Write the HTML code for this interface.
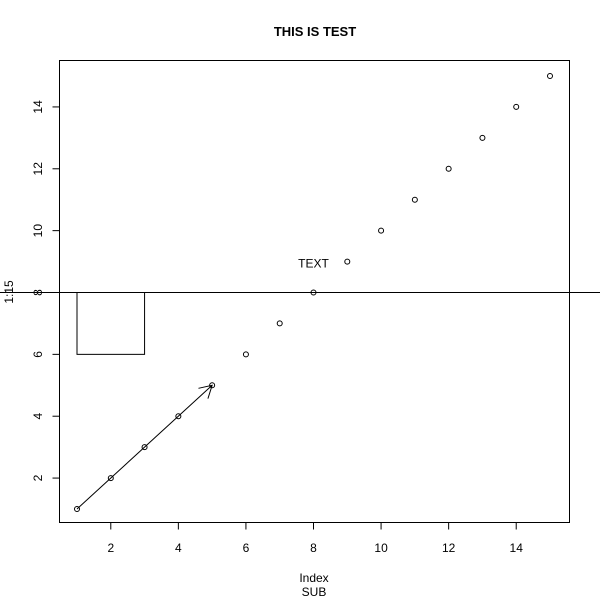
<!DOCTYPE html>
<html><head><meta charset="utf-8"><style>
body{margin:0;background:#fff}
svg{display:block;font-family:"Liberation Sans",Arial,sans-serif}
</style></head><body>
<svg id="chart" width="600" height="600" viewBox="0 0 600 600">
<rect x="0" y="0" width="600" height="600" fill="#fff"/>
<text x="315" y="36" text-anchor="middle" font-size="13" font-weight="bold">THIS IS TEST</text>
<rect x="59.5" y="60.5" width="510" height="462" fill="none" stroke="#000"/>
<g id="xaxis"></g>
<g id="yaxis"></g>
<text x="314" y="582" text-anchor="middle" font-size="12">Index</text>
<text x="314" y="596" text-anchor="middle" font-size="12">SUB</text>
<text x="0" y="0" transform="translate(13,292) rotate(-90)" text-anchor="middle" font-size="12">1:15</text>
<g id="marks"></g>
</svg>
<script>
const xValues=[1,2,3,4,5,6,7,8,9,10,11,12,13,14,15];
const yValues=[1,2,3,4,5,6,7,8,9,10,11,12,13,14,15];
const xTicks=[2,4,6,8,10,12,14];
const yTicks=[2,4,6,8,10,12,14];
const hLineY=8;
const rectCorners=[1,6,3,8];
const arrowPts=[1,1,5,5];
const textLabel=["TEXT",8,9];
const NS="http://www.w3.org/2000/svg";
function sx(v){return 77+(v-1)*(473/14);}
function sy(v){return 509-(v-1)*(433/14);}
function mk(tag,attrs,parent){const e=document.createElementNS(NS,tag);for(const k in attrs)e.setAttribute(k,attrs[k]);parent.appendChild(e);return e;}
const xa=document.getElementById('xaxis'),ya=document.getElementById('yaxis'),m=document.getElementById('marks');
let l=mk('line',{x1:sx(xTicks[0]),x2:sx(xTicks[xTicks.length-1]),y1:522.5,y2:522.5,stroke:'#000'},xa);


xTicks.forEach(t=>{
 const tk=mk('line',{x1:sx(t),x2:sx(t),y1:522.5,y2:529.5,stroke:'#000'},xa);
 
 
 const tx=mk('text',{x:sx(t),y:552,'text-anchor':'middle','font-size':12},xa);tx.textContent=t;
 
 
});
l=mk('line',{x1:59.5,x2:59.5,y1:sy(yTicks[0]),y2:sy(yTicks[yTicks.length-1]),stroke:'#000'},ya);


yTicks.forEach(t=>{
 const tk=mk('line',{x1:52.5,x2:59.5,y1:sy(t),y2:sy(t),stroke:'#000'},ya);
 
 
 const tx=mk('text',{x:0,y:0,transform:`translate(42,${sy(t)}) rotate(-90)`,'text-anchor':'middle','font-size':12},ya);tx.textContent=t;
 
 
});
xValues.forEach((x,i)=>{
 const c=mk('circle',{cx:sx(x),cy:sy(yValues[i]),r:2.5,fill:'none',stroke:'#000'},m);
 
 
});
const hl=mk('line',{x1:0,x2:600,y1:sy(hLineY),y2:sy(hLineY),stroke:'#000'},m);


const [rx1,ry1,rx2,ry2]=rectCorners;
const r=mk('rect',{x:sx(rx1),y:sy(ry2),width:sx(rx2)-sx(rx1),height:sy(ry1)-sy(ry2),fill:'none',stroke:'#000'},m);


const [ax1,ay1,ax2,ay2]=arrowPts;
const X1=sx(ax1),Y1=sy(ay1),X2=sx(ax2),Y2=sy(ay2);
const ang=Math.atan2(Y2-Y1,X2-X1),L=14,a=Math.PI/6;
const p=`M${X1},${Y1}L${X2},${Y2}M${X2-L*Math.cos(ang-a)},${Y2-L*Math.sin(ang-a)}L${X2},${Y2}L${X2-L*Math.cos(ang+a)},${Y2-L*Math.sin(ang+a)}`;
const ar=mk('path',{d:p,fill:'none',stroke:'#000'},m);


const tl=mk('text',{x:sx(textLabel[1]),y:sy(textLabel[2])+6,'text-anchor':'middle','font-size':12},m);
tl.textContent=textLabel[0];


</script>
</body></html>
